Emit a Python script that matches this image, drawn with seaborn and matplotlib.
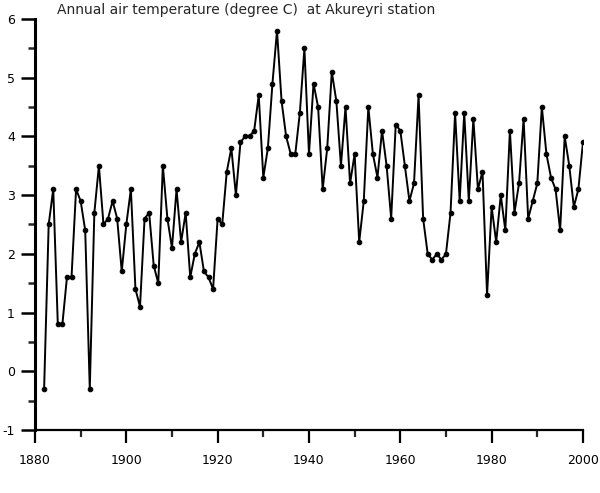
import matplotlib
matplotlib.use("Agg")
import matplotlib.pyplot as plt
from matplotlib.ticker import MultipleLocator
import seaborn as sns
import pandas as pd

years = list(range(1882, 2001))
temps = [
    -0.3, 2.5, 3.1, 0.8, 0.8, 1.6, 1.6, 3.1, 2.9, 2.4,   # 1882-1891
    -0.3, 2.7, 3.5, 2.5, 2.6, 2.9, 2.6, 1.7, 2.5, 3.1,   # 1892-1901
    1.4, 1.1, 2.6, 2.7, 1.8, 1.5, 3.5, 2.6, 2.1, 3.1,    # 1902-1911
    2.2, 2.7, 1.6, 2.0, 2.2, 1.7, 1.6, 1.4, 2.6, 2.5,    # 1912-1921
    3.4, 3.8, 3.0, 3.9, 4.0, 4.0, 4.1, 4.7, 3.3, 3.8,    # 1922-1931
    4.9, 5.8, 4.6, 4.0, 3.7, 3.7, 4.4, 5.5, 3.7, 4.9,    # 1932-1941
    4.5, 3.1, 3.8, 5.1, 4.6, 3.5, 4.5, 3.2, 3.7, 2.2,    # 1942-1951
    2.9, 4.5, 3.7, 3.3, 4.1, 3.5, 2.6, 4.2, 4.1, 3.5,    # 1952-1961
    2.9, 3.2, 4.7, 2.6, 2.0, 1.9, 2.0, 1.9, 2.0, 2.7,    # 1962-1971
    4.4, 2.9, 4.4, 2.9, 4.3, 3.1, 3.4, 1.3, 2.8, 2.2,    # 1972-1981
    3.0, 2.4, 4.1, 2.7, 3.2, 4.3, 2.6, 2.9, 3.2, 4.5,    # 1982-1991
    3.7, 3.3, 3.1, 2.4, 4.0, 3.5, 2.8, 3.1, 3.9,         # 1992-2000
]
x_ticks = [1880, 1900, 1920, 1940, 1960, 1980, 2000]
y_ticks = [-1, 0, 1, 2, 3, 4, 5, 6]
title = "Annual air temperature (degree C)  at Akureyri station"

df = pd.DataFrame({"year": years, "temp": temps})

sns.set_style("ticks")
plt.rcParams["font.family"] = ["DejaVu Sans"]
plt.rcParams["axes.unicode_minus"] = False

fig = plt.figure(figsize=(6.0, 4.93), dpi=100)
ax = fig.add_axes([0.0583, 0.1278, 0.9133, 0.8337])

sns.lineplot(data=df, x="year", y="temp", ax=ax, color="black",
             linewidth=1.4, marker="o", markersize=3.3,
             markeredgecolor="black", markerfacecolor="black")

ax.set_xlim(1880, 2000)
ax.set_ylim(-1, 6)
ax.set_xticks(x_ticks)
ax.set_yticks(y_ticks)
ax.xaxis.set_minor_locator(MultipleLocator(10))
ax.yaxis.set_minor_locator(MultipleLocator(0.5))
ax.set_xlabel("")
ax.set_ylabel("")

for s in ["top", "right"]:
    ax.spines[s].set_visible(False)
ax.spines["left"].set_linewidth(2.2)
ax.spines["bottom"].set_linewidth(1.6)
ax.spines["left"].set_color("black")
ax.spines["bottom"].set_color("black")

ax.tick_params(axis="x", which="major", length=9.5, width=1.6, direction="out",
               pad=8, labelsize=9, colors="black")
ax.tick_params(axis="x", which="minor", length=5, width=1.6, direction="out")
ax.tick_params(axis="y", which="major", length=10, width=1.8, direction="out",
               pad=4.5, labelsize=9, colors="black")
ax.tick_params(axis="y", which="minor", length=5, width=1.8, direction="out")

fig.text(0.095, 0.98, title, fontsize=10, ha="left", va="center")

fig.savefig("out.png", dpi=100, facecolor="white")
